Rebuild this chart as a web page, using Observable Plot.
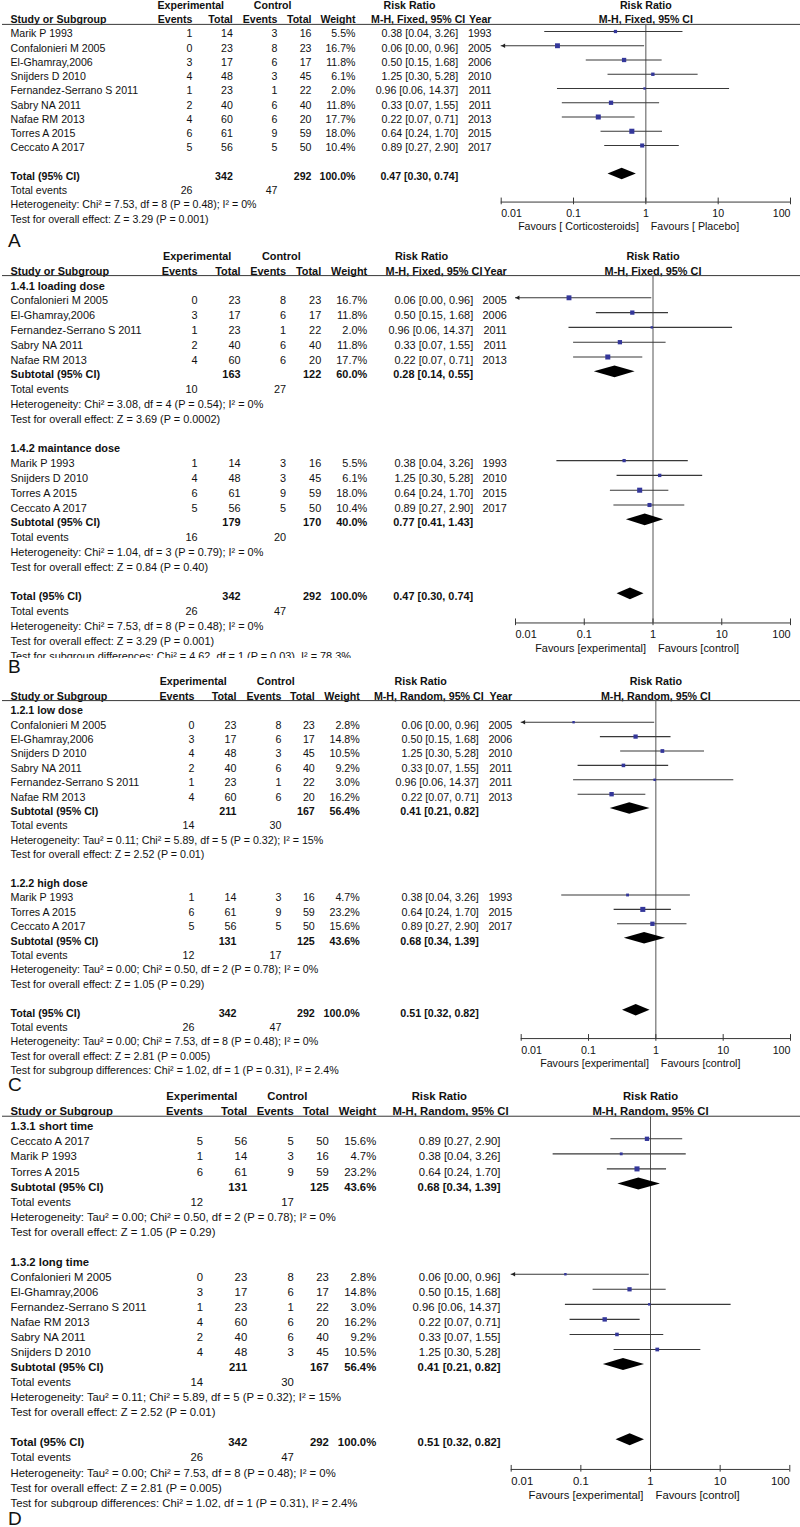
<!DOCTYPE html>
<html>
<head>
<meta charset="utf-8">
<script src="https://cdn.jsdelivr.net/npm/d3@7"></script>
<script src="https://cdn.jsdelivr.net/npm/@observablehq/plot@0.6"></script>
<style>
  html, body { margin: 0; padding: 0; background: #fff; }
  #chart { position: relative; width: 800px; height: 1527px; overflow: hidden; background: #fff;
           font-family: "Liberation Sans", Arial, Helvetica, sans-serif; }
  .letter { position: absolute; left: 8px; font-size: 19px; line-height: 14px; height: 14px; color: #111; z-index: 5; }
</style>
</head>
<body>
<div id="chart"></div>
<script>
// ---------------- DATA ----------------
const studyNames = ["Marik P 1993", "Confalonieri M 2005", "El-Ghamray,2006", "Snijders D 2010",
  "Fernandez-Serrano S 2011", "Sabry NA 2011", "Nafae RM 2013", "Torres A 2015", "Ceccato A 2017"];
const years       = [1993, 2005, 2006, 2010, 2011, 2011, 2013, 2015, 2017];
const expEvents   = [1, 0, 3, 4, 1, 2, 4, 6, 5];
const expTotal    = [14, 23, 17, 48, 23, 40, 60, 61, 56];
const ctrlEvents  = [3, 8, 6, 3, 1, 6, 6, 9, 5];
const ctrlTotal   = [16, 23, 17, 45, 22, 40, 20, 59, 50];
const riskRatio   = [0.38, 0.06, 0.50, 1.25, 0.96, 0.33, 0.22, 0.64, 0.89];
const ciLower     = [0.04, 0.00, 0.15, 0.30, 0.06, 0.07, 0.07, 0.24, 0.27];
const ciUpper     = [3.26, 0.96, 1.68, 5.28, 14.37, 1.55, 0.71, 1.70, 2.90];
const weightFixed  = [5.5, 16.7, 11.8, 6.1, 2.0, 11.8, 17.7, 18.0, 10.4];
const weightRandom = [4.7, 2.8, 14.8, 10.5, 3.0, 9.2, 16.2, 23.2, 15.6];

const subgroupNames = ["1.4.1 loading dose", "1.4.2 maintance dose", "1.2.1 low dose", "1.2.2 high dose",
  "1.3.1 short time", "1.3.2 long time"];
const subgroupMembers = [
  ["Confalonieri M 2005", "El-Ghamray,2006", "Fernandez-Serrano S 2011", "Sabry NA 2011", "Nafae RM 2013"],
  ["Marik P 1993", "Snijders D 2010", "Torres A 2015", "Ceccato A 2017"],
  ["Confalonieri M 2005", "El-Ghamray,2006", "Snijders D 2010", "Sabry NA 2011", "Fernandez-Serrano S 2011", "Nafae RM 2013"],
  ["Marik P 1993", "Torres A 2015", "Ceccato A 2017"],
  ["Ceccato A 2017", "Marik P 1993", "Torres A 2015"],
  ["Confalonieri M 2005", "El-Ghamray,2006", "Fernandez-Serrano S 2011", "Nafae RM 2013", "Sabry NA 2011", "Snijders D 2010"]
];
const subExpTotal    = [163, 179, 211, 131, 131, 211];
const subCtrlTotal   = [122, 170, 167, 125, 125, 167];
const subWeight      = [60.0, 40.0, 56.4, 43.6, 43.6, 56.4];
const subRR          = [0.28, 0.77, 0.41, 0.68, 0.68, 0.41];
const subLower       = [0.14, 0.41, 0.21, 0.34, 0.34, 0.21];
const subUpper       = [0.55, 1.43, 0.82, 1.39, 1.39, 0.82];
const subExpEvents   = [10, 16, 14, 12, 12, 14];
const subCtrlEvents  = [27, 20, 30, 17, 17, 30];
const subHet = [
  "Heterogeneity: Chi² = 3.08, df = 4 (P = 0.54); I² = 0%",
  "Heterogeneity: Chi² = 1.04, df = 3 (P = 0.79); I² = 0%",
  "Heterogeneity: Tau² = 0.11; Chi² = 5.89, df = 5 (P = 0.32); I² = 15%",
  "Heterogeneity: Tau² = 0.00; Chi² = 0.50, df = 2 (P = 0.78); I² = 0%",
  "Heterogeneity: Tau² = 0.00; Chi² = 0.50, df = 2 (P = 0.78); I² = 0%",
  "Heterogeneity: Tau² = 0.11; Chi² = 5.89, df = 5 (P = 0.32); I² = 15%"
];
const subTest = [
  "Test for overall effect: Z = 3.69 (P = 0.0002)",
  "Test for overall effect: Z = 0.84 (P = 0.40)",
  "Test for overall effect: Z = 2.52 (P = 0.01)",
  "Test for overall effect: Z = 1.05 (P = 0.29)",
  "Test for overall effect: Z = 1.05 (P = 0.29)",
  "Test for overall effect: Z = 2.52 (P = 0.01)"
];

const panelLetters   = ["A", "B", "C", "D"];
const panelMethods   = ["M-H, Fixed, 95% CI", "M-H, Fixed, 95% CI", "M-H, Random, 95% CI", "M-H, Random, 95% CI"];
const panelModel     = ["fixed", "fixed", "random", "random"];
const panelSubgroups = [[], [0, 1], [2, 3], [4, 5]];
const favoursLeft    = ["Favours [ Corticosteroids]", "Favours [experimental]", "Favours [experimental]", "Favours [experimental]"];
const favoursRight   = ["Favours [ Placebo]", "Favours [control]", "Favours [control]", "Favours [control]"];
const totalExpTotal  = [342, 342, 342, 342];
const totalCtrlTotal = [292, 292, 292, 292];
const totalExpEvents = [26, 26, 26, 26];
const totalCtrlEvents= [47, 47, 47, 47];
const totalRR        = [0.47, 0.47, 0.51, 0.51];
const totalLower     = [0.30, 0.30, 0.32, 0.32];
const totalUpper     = [0.74, 0.74, 0.82, 0.82];
const totalHet = [
  "Heterogeneity: Chi² = 7.53, df = 8 (P = 0.48); I² = 0%",
  "Heterogeneity: Chi² = 7.53, df = 8 (P = 0.48); I² = 0%",
  "Heterogeneity: Tau² = 0.00; Chi² = 7.53, df = 8 (P = 0.48); I² = 0%",
  "Heterogeneity: Tau² = 0.00; Chi² = 7.53, df = 8 (P = 0.48); I² = 0%"
];
const totalTest = [
  "Test for overall effect: Z = 3.29 (P = 0.001)",
  "Test for overall effect: Z = 3.29 (P = 0.001)",
  "Test for overall effect: Z = 2.81 (P = 0.005)",
  "Test for overall effect: Z = 2.81 (P = 0.005)"
];
const subgroupDiff = [null,
  "Test for subgroup differences: Chi² = 4.62, df = 1 (P = 0.03), I² = 78.3%",
  "Test for subgroup differences: Chi² = 1.02, df = 1 (P = 0.31), I² = 2.4%",
  "Test for subgroup differences: Chi² = 1.02, df = 1 (P = 0.31), I² = 2.4%"];
const axisTicks      = [0.01, 0.1, 1, 10, 100];
const axisTickLabels = ["0.01", "0.1", "1", "10", "100"];

// ---------------- LAYOUT (pixels) ----------------
const layout = [
  {top: 0,    height: 250, row0: 31,     step: 14.25, tdy: 2.5, font: 10.6, x0: 500.7, x1: 790,
   cols: {name: 10, ee: 192, et: 232.3, ce: 277, ct: 311, w: 355, rr: 457.7, yr: 491},
   hdr: {exp: 190.3, ctrl: 272.2, rr1: 409, rr2: 417.7}, letterBase: 248},
  {top: 250,  height: 408, row0: 297.3,  step: 14.8,  tdy: 3,   font: 10.9, x0: 515,   x1: 790,
   cols: {name: 10, ee: 197, et: 240, ce: 285.5, ct: 320.7, w: 366.7, rr: 472.7, yr: 506.3},
   hdr: {exp: 196.7, ctrl: 280.8, rr1: 421, rr2: 433.5}, letterBase: 674},
  {top: 658,  height: 418, row0: 721.7,  step: 14.4,  tdy: 3,   font: 10.7, x0: 520.7, x1: 790,
   cols: {name: 10, ee: 194, et: 236, ce: 281, ct: 314.3, w: 359.3, rr: 478.3, yr: 511.7},
   hdr: {exp: 192.7, ctrl: 275.2, rr1: 420.2, rr2: 428.3}, letterBase: 1092},
  {top: 1076, height: 432, row0: 1138.3, step: 15.05, tdy: 3,   font: 11.3, x0: 510.7, x1: 789.3,
   cols: {name: 10, ee: 202.5, et: 246.7, ce: 293.3, ct: 328.3, w: 375.7, rr: 500, yr: null},
   hdr: {exp: 201.3, ctrl: 286.8, rr1: 438.8, rr2: 450}, letterBase: 1525.5}
];

const FONT = '"Liberation Sans", Arial, Helvetica, sans-serif';
const INK = "#111";
const LINE = "#383838";
const BOX = "#34379a";
const fmtCI = (r, l, u) => `${r.toFixed(2)} [${l.toFixed(2)}, ${u.toFixed(2)}]`;

const chart = document.getElementById("chart");

layout.forEach((L, p) => {
  const weights = panelModel[p] === "fixed" ? weightFixed : weightRandom;
  const groups = panelSubgroups[p];
  const rows = [], studyRows = [], summaryRows = [];

  const addStudy = (name, slot) => {
    const i = studyNames.indexOf(name);
    const r = {slot, kind: "study", label: name,
      ee: String(expEvents[i]), et: String(expTotal[i]), ce: String(ctrlEvents[i]), ct: String(ctrlTotal[i]),
      w: weights[i].toFixed(1) + "%", rrText: fmtCI(riskRatio[i], ciLower[i], ciUpper[i]),
      yr: String(years[i]), rr: riskRatio[i], lo: ciLower[i], hi: ciUpper[i], weight: weights[i]};
    rows.push(r); studyRows.push(r);
  };
  const addSummary = (slot, label, et, ct, w, rr, lo, hi, ee, ce, het, test) => {
    const r = {slot, kind: "summary", label, et: String(et), ct: String(ct), w: w.toFixed(1) + "%",
      rrText: fmtCI(rr, lo, hi), rr, lo, hi};
    rows.push(r); summaryRows.push(r);
    rows.push({slot: slot + 1, kind: "events", label: "Total events", ee: String(ee), ce: String(ce)});
    rows.push({slot: slot + 2, kind: "note", label: het});
    rows.push({slot: slot + 3, kind: "note", label: test});
  };

  let s;
  if (groups.length) {
    s = -1;
    for (const g of groups) {
      rows.push({slot: s, kind: "heading", label: subgroupNames[g]});
      s++;
      for (const name of subgroupMembers[g]) { addStudy(name, s); s++; }
      addSummary(s, "Subtotal (95% CI)", subExpTotal[g], subCtrlTotal[g], subWeight[g], subRR[g], subLower[g], subUpper[g],
        subExpEvents[g], subCtrlEvents[g], subHet[g], subTest[g]);
      s += 5;
    }
  } else {
    s = 0;
    for (const name of studyNames) { addStudy(name, s); s++; }
    s++;
  }
  const totalSlot = s;
  addSummary(totalSlot, "Total (95% CI)", totalExpTotal[p], totalCtrlTotal[p], 100.0, totalRR[p], totalLower[p], totalUpper[p],
    totalExpEvents[p], totalCtrlEvents[p], totalHet[p], totalTest[p]);
  if (subgroupDiff[p]) rows.push({slot: totalSlot + 4, kind: "note", label: subgroupDiff[p]});

  const h1 = groups.length ? -3 : -2;
  const h2 = h1 + 1;
  const underline = h2 + 0.5;
  const axisSlot = totalSlot + 1.97;

  // diamonds through the scales
  const diamondPts = [];
  summaryRows.forEach((d, k) => {
    diamondPts.push({id: k, slot: d.slot - 0.4, a: d.rr, b: d.rr});
    diamondPts.push({id: k, slot: d.slot, a: d.lo, b: d.hi});
    diamondPts.push({id: k, slot: d.slot + 0.4, a: d.rr, b: d.rr});
  });
  const arrowRows = studyRows.filter(d => d.lo < axisTicks[0]);
  const wmax = d3.max(studyRows, d => d.weight);

  const tOpts = {fontFamily: FONT, fontSize: L.font, fill: INK};
  const isBold = d => d.kind === "heading" || d.kind === "summary";
  const col = (key, x, anchor) => [
    Plot.text(rows.filter(d => d[key] != null && isBold(d)),
      {...tOpts, frameAnchor: "left", dx: x, y: "slot", dy: L.tdy, text: key, textAnchor: anchor, fontWeight: "bold"}),
    Plot.text(rows.filter(d => d[key] != null && !isBold(d)),
      {...tOpts, frameAnchor: "left", dx: x, y: "slot", dy: L.tdy, text: key, textAnchor: anchor, fontWeight: "normal"})
  ];
  const hdr = (slot, label, x, anchor) =>
    Plot.text([slot], {...tOpts, frameAnchor: "left", dx: x, y: d => d, dy: L.tdy, text: () => label,
      textAnchor: anchor, fontWeight: "bold"});

  const marks = [
    // header
    hdr(h1, "Experimental", L.hdr.exp, "middle"),
    hdr(h1, "Control", L.hdr.ctrl, "middle"),
    hdr(h1, "Risk Ratio", L.hdr.rr1, "middle"),
    hdr(h2, "Study or Subgroup", L.cols.name, "start"),
    hdr(h2, "Events", L.cols.ee, "end"),
    hdr(h2, "Total", L.cols.et, "end"),
    hdr(h2, "Events", L.cols.ce, "end"),
    hdr(h2, "Total", L.cols.ct, "end"),
    hdr(h2, "Weight", L.cols.w, "end"),
    hdr(h2, panelMethods[p], L.hdr.rr2, "middle"),
    L.cols.yr != null ? hdr(h2, "Year", L.cols.yr, "end") : null,
    Plot.text([h1], {...tOpts, x: () => 1, y: d => d, dy: L.tdy, text: () => "Risk Ratio", fontWeight: "bold", textAnchor: "middle"}),
    Plot.text([h2], {...tOpts, x: () => 1, y: d => d, dy: L.tdy, text: () => panelMethods[p], fontWeight: "bold", textAnchor: "middle"}),
    Plot.ruleY([underline], {y: d => d, stroke: LINE, strokeWidth: 1, insetLeft: 2}),
    // table columns
    ...col("label", L.cols.name, "start"),
    ...col("ee", L.cols.ee, "end"),
    ...col("et", L.cols.et, "end"),
    ...col("ce", L.cols.ce, "end"),
    ...col("ct", L.cols.ct, "end"),
    ...col("w", L.cols.w, "end"),
    ...col("rrText", L.cols.rr, "end"),
    ...(L.cols.yr != null ? col("yr", L.cols.yr, "end") : []),
    // forest plot
    Plot.ruleX([1], {x: d => d, y1: () => underline, y2: () => axisSlot, stroke: "#555", strokeWidth: 1}),
    Plot.ruleY(studyRows, {y: "slot", x1: d => Math.max(d.lo, axisTicks[0]), x2: "hi", stroke: LINE, strokeWidth: 1.1}),
    Plot.dot(arrowRows, {x: () => axisTicks[0], y: "slot", symbol: "triangle", rotate: -90, r: 1.7, dx: 2.6,
      fill: "#222", stroke: null}),
    Plot.dot(studyRows, {x: "rr", y: "slot", r: "weight", symbol: "square", fill: BOX, stroke: null}),
    Plot.areaX(diamondPts, {y: "slot", x1: "a", x2: "b", z: "id", fill: "#000", curve: "linear"}),
    // axis
    Plot.ruleY([axisSlot], {y: d => d, x1: () => axisTicks[0], x2: () => axisTicks[axisTicks.length - 1], stroke: LINE, strokeWidth: 1}),
    Plot.ruleX(axisTicks, {x: d => d, y1: () => axisSlot - 4 / L.step, y2: () => axisSlot + 2.7 / L.step, stroke: LINE, strokeWidth: 1}),
    Plot.text(axisTicks.slice(0, 1), {...tOpts, x: d => d, y: () => axisSlot, dy: 0.8 * L.step,
      text: () => axisTickLabels[0], textAnchor: "start"}),
    Plot.text(axisTicks.slice(1, -1), {...tOpts, x: d => d, y: () => axisSlot, dy: 0.8 * L.step,
      text: (d, i) => axisTickLabels[i + 1], textAnchor: "middle"}),
    Plot.text(axisTicks.slice(-1), {...tOpts, x: d => d, y: () => axisSlot, dy: 0.8 * L.step,
      text: () => axisTickLabels[axisTickLabels.length - 1], textAnchor: "end"}),
    Plot.text([favoursLeft[p]], {...tOpts, x: () => 1, y: () => axisSlot, dy: 1.72 * L.step, dx: -7, text: d => d, textAnchor: "end"}),
    Plot.text([favoursRight[p]], {...tOpts, x: () => 1, y: () => axisSlot, dy: 1.72 * L.step, dx: 5, text: d => d, textAnchor: "start"})
  ].filter(Boolean);

  const rowTop = L.row0 - L.top;
  const svg = Plot.plot({
    width: 800,
    height: L.height,
    marginLeft: 0, marginRight: 0, marginTop: 0, marginBottom: 0,
    x: {type: "log", domain: [axisTicks[0], axisTicks[axisTicks.length - 1]], range: [L.x0, L.x1], axis: null},
    y: {type: "linear", domain: [0, 1], range: [rowTop, rowTop + L.step], axis: null},
    r: {type: "sqrt", domain: [0, wmax], range: [0.6, 2.85]},
    style: {fontFamily: FONT, fontSize: L.font + "px", background: "#fff", overflow: "hidden", color: INK},
    marks
  });
  svg.style.position = "absolute";
  svg.style.left = "0px";
  svg.style.top = L.top + "px";
  svg.style.maxWidth = "none";
  chart.appendChild(svg);

  const letter = document.createElement("div");
  letter.className = "letter";
  letter.textContent = panelLetters[p];
  letter.style.top = (L.letterBase - 13.6) + "px";
  chart.appendChild(letter);
});
</script>
</body>
</html>
